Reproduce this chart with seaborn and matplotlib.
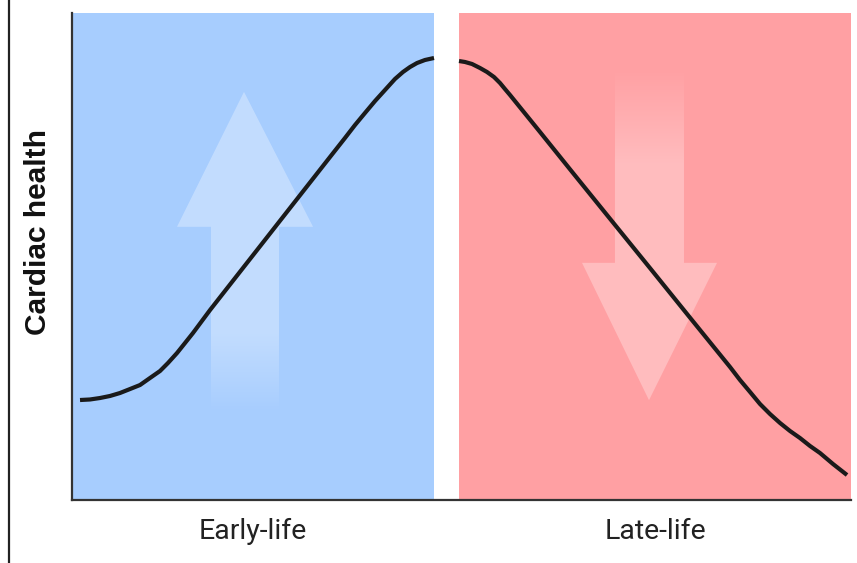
# Cardiac health across early and late life: two shaded phases with a curve
import numpy as np
import pandas as pd
import matplotlib.pyplot as plt
import seaborn as sns
from matplotlib.lines import Line2D
from matplotlib.patches import Polygon

# phase labels
phases = ["Early-life", "Late-life"]

# curve (x: 0-100 across the axis, y: 0-100 up the axis)
early_x = [1.03, 2.31, 3.59, 4.88, 6.16, 7.45, 8.73, 10.01, 11.30, 12.32, 13.48,
           14.51, 15.53, 17.72, 21.57, 25.42, 29.27, 33.12, 35.04, 36.33, 37.61,
           38.90, 40.18, 41.46, 42.49, 43.39, 44.29, 45.31, 46.47]
early_y = [20.53, 20.64, 20.94, 21.36, 21.97, 22.79, 23.61, 25.05, 26.49, 28.13, 30.18,
           32.24, 34.29, 39.01, 46.87, 54.72, 62.58, 70.43, 74.33, 77.00, 79.47,
           81.93, 84.19, 86.45, 87.89, 88.91, 89.73, 90.35, 90.76]
late_x = [49.68, 50.45, 51.35, 52.37, 53.27, 54.17, 54.94, 55.58, 56.23, 60.08, 64.31,
          69.06, 74.20, 79.33, 84.47, 85.75, 87.04, 88.32, 89.60, 90.89, 92.17,
          93.45, 94.74, 96.02, 97.69, 99.49]
late_y = [90.14, 89.94, 89.53, 88.71, 87.89, 86.86, 85.63, 84.39, 83.16, 75.56, 67.15,
          57.76, 47.62, 37.45, 27.31, 24.64, 22.18, 19.71, 17.66, 15.81, 14.17,
          12.73, 11.09, 9.65, 7.39, 5.13]

# phase spans on the x axis
early_span = [0, 46.5]
late_span = [49.7, 100]

df = pd.concat([
    pd.DataFrame({"x": early_x, "y": early_y, "phase": phases[0]}),
    pd.DataFrame({"x": late_x, "y": late_y, "phase": phases[1]}),
])

sns.set_style("white")
fig = plt.figure(figsize=(8.57, 5.63), dpi=100)
ax = fig.add_axes([72 / 857, 63 / 563, 779 / 857, 487 / 563])

blue = "#a7cdfe"
red = "#ffa0a3"
ax.axvspan(*early_span, color=blue, lw=0, zorder=0)
ax.axvspan(*late_span, color=red, lw=0, zorder=0)


def arrow(shape, y_solid, y_fade, alpha):
    # white translucent arrow, fading out between y_solid and y_fade
    poly = Polygon(shape, closed=True, facecolor="none", lw=0)
    ax.add_patch(poly)
    xs = [p[0] for p in shape]
    ys = [p[1] for p in shape]
    lo, hi = min(ys), max(ys)
    n = 256
    yy = np.linspace(lo, hi, n)
    t = np.clip((yy - y_fade) / (y_solid - y_fade), 0, 1)
    img = np.ones((n, 1, 4))
    img[:, 0, 3] = alpha * t
    im = ax.imshow(img, extent=[min(xs), max(xs), lo, hi], origin="lower",
                   aspect="auto", zorder=1, interpolation="bilinear")
    im.set_clip_path(poly)


# up arrow (early life)
arrow([[17.84, 17.9], [26.57, 17.9], [26.57, 56.1], [30.94, 56.1], [22.08, 83.8],
       [13.48, 56.1], [17.84, 56.1]], 34.5, 17.9, 0.32)
# down arrow (late life)
arrow([[69.70, 87.7], [78.56, 87.7], [78.56, 48.7], [82.80, 48.7], [74.07, 20.5],
       [65.47, 48.7], [69.70, 48.7]], 69.0, 88.5, 0.30)

for ph in phases:
    sns.lineplot(data=df[df["phase"] == ph], x="x", y="y", color="#1a1a1a", lw=3.0,
                 ax=ax, zorder=3, sort=False, solid_joinstyle="round",
                 solid_capstyle="butt")

ax.set_xlim(0, 100)
ax.set_ylim(0, 100)
ax.set_xticks([sum(early_span) / 2, sum(late_span) / 2])
ax.set_xticklabels(phases, fontfamily="Roboto", fontsize=20.5, color="#222222")
ax.set_yticks([])
ax.tick_params(axis="x", length=0, pad=13)
ax.set_xlabel("")
ax.set_ylabel("")
for s in ["top", "right"]:
    ax.spines[s].set_visible(False)
for s in ["left", "bottom"]:
    ax.spines[s].set_color("#333333")
    ax.spines[s].set_linewidth(1.6)
    ax.spines[s].set_zorder(4)

fig.text(38 / 857, 1 - 232 / 563, "Cardiac health", rotation=90, ha="center", va="center",
         fontfamily="Liberation Sans", fontweight="bold", fontsize=21.5, color="#111111")

# left border line
fig.add_artist(Line2D([9 / 857, 9 / 857], [0, 1], transform=fig.transFigure,
                      color="#222222", lw=1.6))

fig.savefig("out.png", dpi=100)
